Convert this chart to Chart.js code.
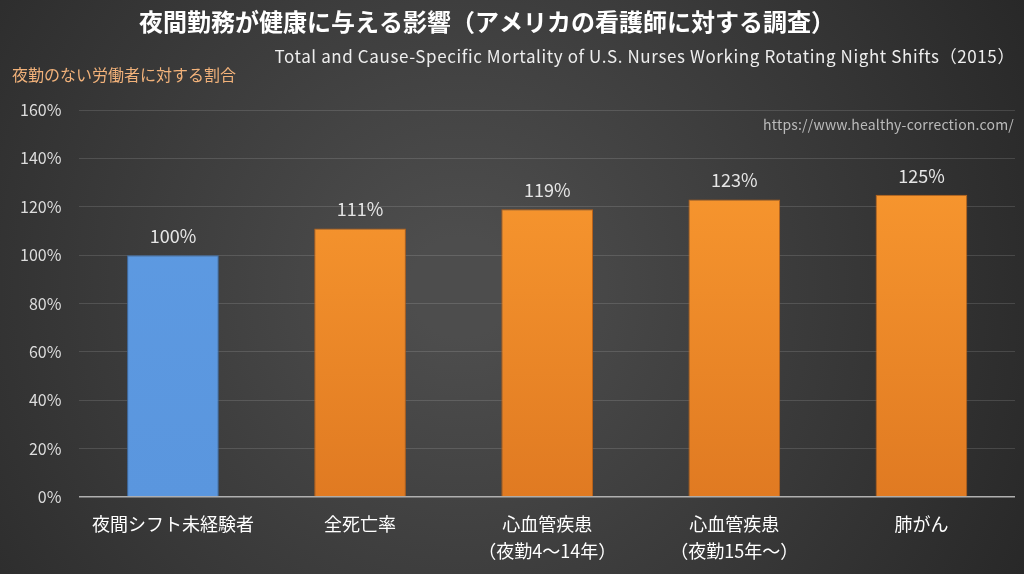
<!DOCTYPE html>
<html>
<head>
<meta charset="utf-8">
<script src="https://cdn.jsdelivr.net/npm/chart.js@4"></script>
<style>
  html, body { margin: 0; padding: 0; background: #333; }
  #wrap { width: 1024px; height: 574px; position: relative; }
</style>
</head>
<body>
<div id="wrap"><canvas id="chart"></canvas></div>
<script>
// Data
const categories = [
    '夜間シフト未経験者',
    '全死亡率',
    ['心血管疾患', '（夜勤4～14年）'],
    ['心血管疾患', '（夜勤15年～）'],
    '肺がん'
];
const ratios = [100, 111, 119, 123, 125];
const highlight = [true, false, false, false, false];

const titleText = '夜間勤務が健康に与える影響（アメリカの看護師に対する調査）';
const subtitleText = 'Total and Cause-Specific Mortality of U.S. Nurses Working Rotating Night Shifts（2015）';
const yTitleText = '夜勤のない労働者に対する割合';
const sourceText = 'https://www.healthy-correction.com/';

const FONT = '"Noto Sans CJK JP", "Noto Sans", sans-serif';

// Background + texts + value labels
const decorPlugin = {
    id: 'decor',
    beforeDraw(chart) {
        const { ctx, width, height } = chart;
        const g = ctx.createRadialGradient(width * 0.45, height * 0.5, 50, width * 0.45, height * 0.5, width * 0.65);
        g.addColorStop(0, '#4d4d4d');
        g.addColorStop(1, '#262626');
        ctx.save();
        ctx.fillStyle = g;
        ctx.fillRect(0, 0, width, height);
        ctx.restore();
    },
    afterDraw(chart) {
        const { ctx } = chart;
        ctx.save();
        ctx.textBaseline = 'middle';

        ctx.fillStyle = '#ffffff';
        ctx.font = 'bold 24px ' + FONT;
        ctx.textAlign = 'center';
        ctx.fillText(titleText, 487, 22);

        ctx.fillStyle = '#eeeeee';
        ctx.font = '17px ' + FONT;
        ctx.letterSpacing = '0.6px';
        ctx.textAlign = 'right';
        ctx.fillText(subtitleText, 1015, 57);

        ctx.fillStyle = '#f2b27a';
        ctx.font = '16px ' + FONT;
        ctx.letterSpacing = '0px';
        ctx.textAlign = 'left';
        ctx.fillText(yTitleText, 12, 75);

        ctx.fillStyle = '#bbbbbb';
        ctx.font = '14px ' + FONT;
        ctx.letterSpacing = '0.2px';
        ctx.textAlign = 'right';
        ctx.fillText(sourceText, 1014, 125);

        // value labels
        const meta = chart.getDatasetMeta(0);
        ctx.fillStyle = '#e6e6e6';
        ctx.font = '18px ' + FONT;
        ctx.letterSpacing = '0px';
        ctx.textAlign = 'center';
        meta.data.forEach((bar, i) => {
            ctx.fillText(ratios[i] + '%', bar.x, bar.y - 19);
        });
        ctx.restore();
    }
};

function barColor(context) {
    const chart = context.chart;
    const area = chart.chartArea;
    if (!area) return '#f7941d';
    const i = context.dataIndex;
    const g = chart.ctx.createLinearGradient(0, area.top, 0, area.bottom);
    if (highlight[i]) {
        g.addColorStop(0, '#5e9be3');
        g.addColorStop(1, '#5a96de');
    } else {
        g.addColorStop(0, '#fc9c31');
        g.addColorStop(1, '#e07a22');
    }
    return g;
}

new Chart(document.getElementById('chart').getContext('2d'), {
    type: 'bar',
    data: {
        labels: categories,
        datasets: [{
            data: ratios,
            backgroundColor: barColor,
            borderColor: ctx => highlight[ctx.dataIndex] ? '#3f6fa8' : '#b8621a',
            borderWidth: 1,
            categoryPercentage: 0.49,
            barPercentage: 1.0
        }]
    },
    options: {
        responsive: true,
        maintainAspectRatio: false,
        animation: false,
        layout: { padding: { top: 110, left: 2, right: 9, bottom: 3 } },
        plugins: {
            legend: { display: false },
            tooltip: { enabled: false }
        },
        scales: {
            y: {
                min: 0,
                max: 160,
                ticks: {
                    stepSize: 20,
                    color: '#dddddd',
                    font: { size: 16, family: FONT },
                    padding: 18,
                    callback: v => v + '%'
                },
                grid: {
                    color: ctx => ctx.tick.value === 0 ? '#b0b0b0' : 'rgba(255,255,255,0.13)',
                    lineWidth: ctx => ctx.tick.value === 0 ? 1.5 : 1,
                    drawTicks: false
                },
                border: { display: false }
            },
            x: {
                ticks: {
                    color: '#ffffff',
                    font: { size: 18, family: FONT, lineHeight: 1.5 },
                    padding: 6
                },
                grid: { display: false },
                border: { display: false }
            }
        }
    },
    plugins: [decorPlugin]
});
</script>
</body>
</html>
